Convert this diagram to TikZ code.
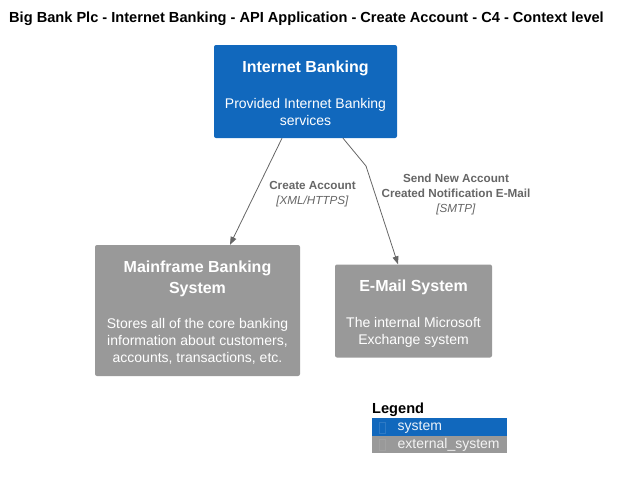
\documentclass[tikz,border=0pt]{standalone}
\usepackage{fontspec}
\setmainfont{Liberation Sans}
\usetikzlibrary{arrows.meta}

\definecolor{sysblue}{HTML}{1168BD}
\definecolor{extgray}{HTML}{999999}
\definecolor{relgray}{HTML}{666666}

\tikzset{
  sysbox/.style={rectangle, rounded corners=2pt, fill=sysblue, text=white, align=center,
    inner sep=0pt, font=\fontsize{14}{17}\selectfont},
  extbox/.style={sysbox, fill=extgray},
  rel/.style={draw=relgray, line width=0.8pt, -{Triangle[length=8pt,width=6pt]}},
  rellabel/.style={text=relgray, align=center, font=\fontsize{11.7}{15}\selectfont},
  legendbar/.style={rectangle, anchor=north west, minimum width=135pt, minimum height=17.5pt,
    inner sep=0pt, text width=135pt, align=left, font=\fontsize{14}{15}\selectfont},
}
\newcommand{\titlefont}{\fontsize{16}{21}\selectfont\bfseries}
\newcommand{\titlestrut}{\rule{0pt}{16pt}}

\begin{document}
\begin{tikzpicture}[x=1pt, y=-1pt]
  \useasboundingbox (0,0) rectangle (620,479);

  % title
  \node[font=\fontsize{14.6}{16}\selectfont\bfseries] (title) at (306.5,19)
    {Big Bank Plc - Internet Banking - API Application - Create Account - C4 - Context level};

  % systems
  \node[sysbox, minimum width=183pt, minimum height=93pt] (ib) at (305.5,91.5)
    {{\titlefont\titlestrut Internet Banking}\\[19pt]Provided Internet Banking\\services};
  \node[extbox, minimum width=205pt, minimum height=131pt] (mf) at (197.5,310.5)
    {{\titlefont\titlestrut Mainframe Banking}\\[4pt]{\titlefont System}\\[18pt]Stores all of the core banking\\information about customers,\\accounts, transactions, etc.};
  \node[extbox, minimum width=157pt, minimum height=93pt] (em) at (413.5,311)
    {{\titlefont\titlestrut E-Mail System}\\[19pt]The internal Microsoft\\Exchange system};

  % relations
  \coordinate (bend) at (366,166);
  \draw[rel] ([xshift=-23.5pt]ib.south) -- ([xshift=32.5pt]mf.north);
  \draw[rel] ([xshift=37.5pt]ib.south) -- (bend) -- ([xshift=-15.5pt]em.north);
  \node[rellabel] (lbl1) at (312.5,194) {\textbf{Create Account}\\\textit{[XML/HTTPS]}};
  \node[rellabel] (lbl2) at (456,194) {\textbf{Send New Account}\\\textbf{Created Notification E-Mail}\\\textit{[SMTP]}};

  % legend
  \node[anchor=west, font=\fontsize{14.6}{16}\selectfont\bfseries, inner sep=0pt] (legend) at (372,410) {Legend};
  \node[legendbar, fill=sysblue, text=white!92!sysblue] (lsys) at (372,418) {\hspace*{25.5pt}system};
  \node[legendbar, fill=extgray, text=white!88!extgray] (lext) at (372,435.5) {\hspace*{25.5pt}external\_system};
  \draw[white!12!sysblue] (379,422) rectangle (385,433);
  \draw[white!8!extgray] (379,439.5) rectangle (385,450.5);
\end{tikzpicture}
\end{document}
